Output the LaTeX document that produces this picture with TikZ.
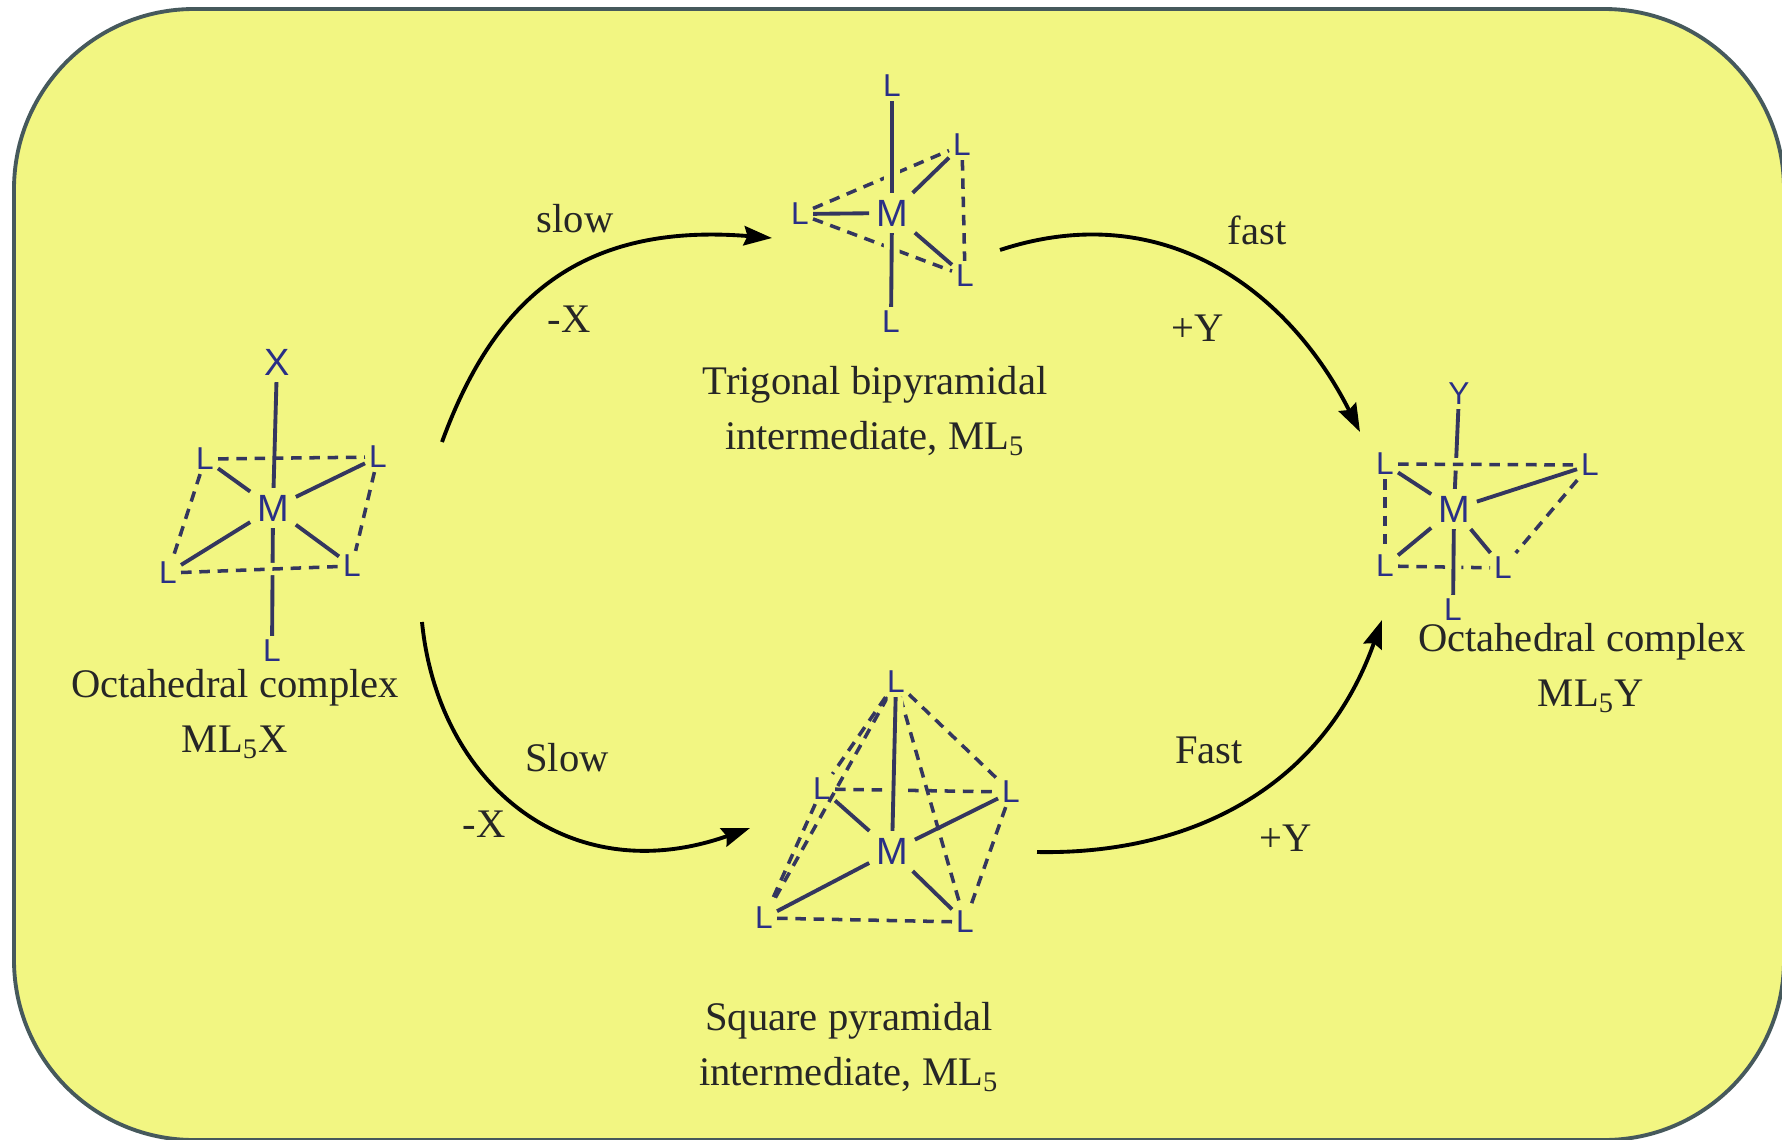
\documentclass[tikz,border=0pt]{standalone}
\usetikzlibrary{arrows.meta}
\usepackage{fontspec}
\setmainfont{Liberation Serif}
\setsansfont{Liberation Sans}
\definecolor{panel}{HTML}{F2F682}
\definecolor{rim}{HTML}{46595C}
\definecolor{atomblue}{HTML}{2A2F86}
\definecolor{bondblue}{HTML}{34365F}
\tikzset{
  atom/.style={inner sep=1pt, text=atomblue, font=\sffamily\fontsize{9}{9}\selectfont},
  metal/.style={inner sep=1.8pt, text=atomblue, font=\sffamily\fontsize{10.8}{11}\selectfont},
  note/.style={inner sep=0pt, align=center, text=black!85, font=\fontsize{11.55}{15.6}\selectfont},
  bond/.style={bondblue, line width=1.1pt},
  frontbond/.style={bond, preaction={draw=panel, line width=4.5pt}},
  edge/.style={bondblue, line width=1pt, dash pattern=on 3pt off 2.2pt},
  frontedge/.style={edge, preaction={draw=panel, solid, line width=3.5pt}},
  route/.style={-{Stealth[length=8pt, width=5.5pt, inset=1pt]}, black, line width=1.1pt}
}
\begin{document}
\begin{tikzpicture}
\useasboundingbox (0,0) rectangle (17.82,11.39);
\fill[white] (0,0) rectangle (17.82,11.39);
\draw[rim, fill=panel, line width=1.1pt, rounded corners=1.8cm] (0.14,-0.01) rectangle (17.84,11.30);
\node[metal] (ax) at (2.77,7.77) {X};
\node[atom] (al1) at (2.05,6.80) {L};
\node[atom] (al2) at (3.78,6.82) {L};
\node[atom] (al3) at (1.68,5.66) {L};
\node[atom] (al4) at (3.52,5.73) {L};
\node[atom] (al5) at (2.72,4.88) {L};
\node[metal] (am) at (2.73,6.31) {M};
\draw[edge] (al1) -- (al2);
\draw[edge] (al1) -- (al3);
\draw[edge] (al2) -- (al4);
\draw[bond] (am) -- (ax);
\draw[bond] (am) -- (al5);
\draw[frontedge] (al3) -- (al4);
\draw[bond] (am) -- (al1);
\draw[bond] (am) -- (al2);
\draw[bond] (am) -- (al3);
\draw[bond] (am) -- (al4);
\node[atom] (bl1) at (8.92,10.53) {L};
\node[atom] (bl2) at (9.62,9.94) {L};
\node[atom] (bl3) at (8.00,9.25) {L};
\node[atom] (bl4) at (9.65,8.63) {L};
\node[atom] (bl5) at (8.91,8.17) {L};
\node[metal] (bm) at (8.92,9.26) {M};
\draw[edge] (bl3) -- (bl2);
\draw[edge] (bl3) -- (bl4);
\draw[edge] (bl2) -- (bl4);
\draw[frontbond] (bm) -- (bl1);
\draw[frontbond] (bm) -- (bl5);
\draw[bond] (bm) -- (bl2);
\draw[bond] (bm) -- (bl3);
\draw[bond] (bm) -- (bl4);
\node[atom] (cl1) at (8.96,4.57) {L};
\node[atom] (cl2) at (8.22,3.50) {L};
\node[atom] (cl3) at (10.11,3.47) {L};
\node[atom] (cl4) at (7.64,2.21) {L};
\node[atom] (cl5) at (9.65,2.17) {L};
\node[metal] (cm) at (8.92,2.88) {M};
\draw[edge] (cl2) -- (cl3);
\draw[edge] (cl1) -- (cl2);
\draw[edge] (cl2) -- (cl4);
\draw[edge] (cl1) -- (cl4);
\draw[edge] (cl1) -- (cl3);
\draw[edge] (cl1) -- (cl5);
\draw[edge] (cl3) -- (cl5);
\draw[edge] (cl4) -- (cl5);
\draw[frontbond] (cm) -- (cl1);
\draw[bond] (cm) -- (cl2);
\draw[bond] (cm) -- (cl3);
\draw[bond] (cm) -- (cl4);
\draw[bond] (cm) -- (cl5);
\node[atom] (dy) at (14.59,7.45) {Y};
\node[atom] (dl1) at (13.85,6.75) {L};
\node[atom] (dl2) at (15.90,6.74) {L};
\node[atom] (dl3) at (13.85,5.73) {L};
\node[atom] (dl4) at (15.03,5.71) {L};
\node[atom] (dl5) at (14.53,5.29) {L};
\node[metal] (dm) at (14.54,6.30) {M};
\draw[bond] (dm) -- (dy);
\draw[frontedge] (dl1) -- (dl2);
\draw[edge] (dl1) -- (dl3);
\draw[edge] (dl3) -- (dl4);
\draw[edge] (dl2) -- (dl4);
\draw[frontbond] (dm) -- (dl5);
\draw[bond] (dm) -- (dl1);
\draw[bond] (dm) -- (dl2);
\draw[bond] (dm) -- (dl3);
\draw[bond] (dm) -- (dl4);
\coordinate (r1a) at (4.42,6.97);
\coordinate (r1b) at (7.72,9.01);
\coordinate (r2a) at (10.00,8.89);
\coordinate (r2b) at (13.60,7.07);
\coordinate (r3a) at (4.22,5.17);
\coordinate (r3b) at (7.50,3.11);
\coordinate (r4a) at (10.37,2.87);
\coordinate (r4b) at (13.82,5.19);
\draw[route] (r1a) .. controls (4.92,8.34) and (5.75,9.17) .. (r1b);
\draw[route] (r2a) .. controls (11.64,9.43) and (12.89,8.48) .. (r2b);
\draw[route] (r3a) .. controls (4.38,3.55) and (5.69,2.47) .. (r3b);
\draw[route] (r4a) .. controls (11.91,2.84) and (13.23,3.52) .. (r4b);
\node[note] (t1) at (5.75,9.20) {slow};
\node[note] (t2) at (5.69,8.20) {-X};
\node[note] (t3) at (12.57,9.09) {fast};
\node[note] (t4) at (11.98,8.11) {+Y};
\node[note] (t5) at (5.67,3.81) {Slow};
\node[note] (t6) at (4.84,3.15) {-X};
\node[note] (t7) at (12.09,3.89) {Fast};
\node[note] (t8) at (12.86,3.01) {+Y};
\node[note] (n1) at (2.35,4.25) {Octahedral complex\\ML\textsubscript{5}X};
\node[note] (n2) at (8.75,7.28) {Trigonal bipyramidal\\intermediate, ML\textsubscript{5}};
\node[note] (n3) at (8.49,0.92) {Square pyramidal\\intermediate, ML\textsubscript{5}};
\node[note] (n4) at (15.82,4.71) {Octahedral complex\\\hspace{0.18cm}ML\textsubscript{5}Y};
\end{tikzpicture}
\end{document}
